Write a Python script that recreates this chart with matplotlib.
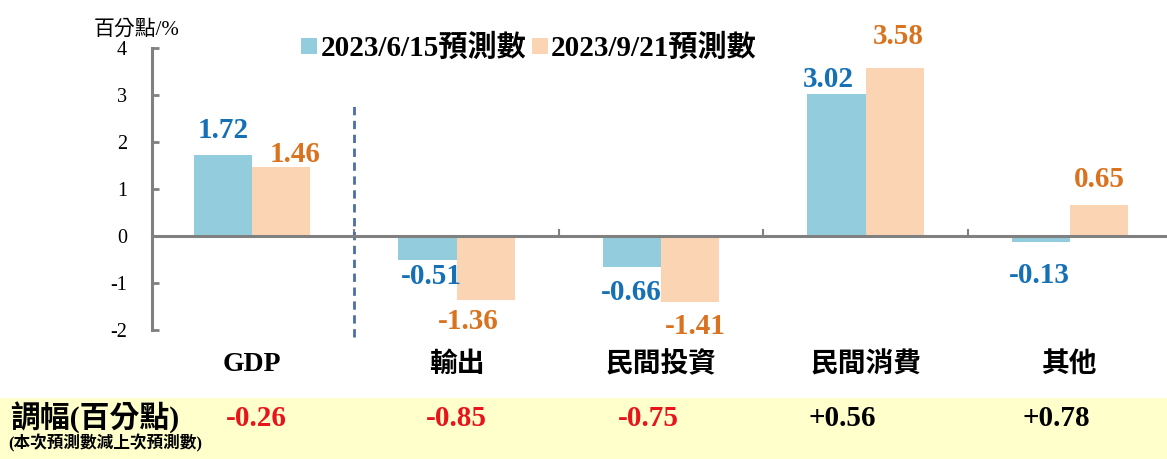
import matplotlib
matplotlib.use("Agg")
import matplotlib.pyplot as plt
import matplotlib.transforms as mtransforms
from matplotlib.patches import Patch, Rectangle
import numpy as np

# data
categories = ["GDP", "輸出", "民間投資", "民間消費", "其他"]
forecast_jun = [1.72, -0.51, -0.66, 3.02, -0.13]   # 2023/6/15預測數
forecast_sep = [1.46, -1.36, -1.41, 3.58, 0.65]    # 2023/9/21預測數
adjust = ["-0.26", "-0.85", "-0.75", "+0.56", "+0.78"]
series_names = ["2023/6/15預測數", "2023/9/21預測數"]

# label nudges in pixels (labels in the original are hand placed)
jun_dx = [0, 4, -1, -8, -2]
jun_dy = [17, 3, 12, 7, 20]
sep_dx = [14, -17, 5, 4, 0]
sep_dy = [5, 8, 11, 24, 18]
adj_dx = [4, 0, -13, -23, -14]

FONT = ["Liberation Serif", "Noto Sans CJK TC", "DejaVu Sans"]
plt.rcParams["font.family"] = FONT
plt.rcParams["axes.unicode_minus"] = False

blue_bar = "#93CDDD"
orange_bar = "#FBD4B4"
blue_txt = "#1570B5"
orange_txt = "#D9731F"
grey = "#808080"

fig = plt.figure(figsize=(11.67, 4.59), dpi=100)
ax = fig.add_axes([152 / 1167, 1 - 330 / 459, 1 - 152 / 1167, (330 - 47.9) / 459])

# yellow strip for the adjustment row
fig.patches.append(Rectangle((0, 0), 1, 61 / 459, transform=fig.transFigure,
                             facecolor="#FFFFCC", edgecolor="none", zorder=-5))

x = np.arange(len(categories))
w = 0.285
ax.bar(x - w / 2, forecast_jun, w, color=blue_bar, zorder=2)
ax.bar(x + w / 2, forecast_sep, w, color=orange_bar, zorder=2)

ax.set_xlim(-0.489, 4.474)
ax.set_ylim(-2, 4)

for s in ["top", "right"]:
    ax.spines[s].set_visible(False)
ax.spines["bottom"].set_position(("data", 0))
for s in ["left", "bottom"]:
    ax.spines[s].set_color(grey)
    ax.spines[s].set_linewidth(2.2)
    ax.spines[s].set_zorder(3)

ax.set_yticks(range(-2, 5))
ax.tick_params(axis="y", direction="in", length=5, width=2, color=grey,
               labelsize=14.5, pad=18)
ax.set_xticks(x[:-1] + 0.5)
ax.tick_params(axis="x", direction="in", length=5, width=1.5, color=grey,
               labelbottom=False)

# value labels
for i in range(len(categories)):
    v = forecast_jun[i]
    ax.annotate(f"{v:.2f}", (x[i] - w / 2, v), xytext=(jun_dx[i], jun_dy[i] if v > 0 else -jun_dy[i]),
                textcoords="offset pixels", ha="center", va="baseline" if v > 0 else "top",
                fontsize=21, fontweight="bold", color=blue_txt, zorder=4)
    v = forecast_sep[i]
    ax.annotate(f"{v:.2f}", (x[i] + w / 2, v), xytext=(sep_dx[i], sep_dy[i] if v > 0 else -sep_dy[i]),
                textcoords="offset pixels", ha="center", va="baseline" if v > 0 else "top",
                fontsize=21, fontweight="bold", color=orange_txt, zorder=4)

# dashed divider between GDP and components
ax.plot([0.5, 0.5], [-2.15, 2.8], color="#4A6FA5", lw=2, ls=(0, (3, 2)),
        clip_on=False, zorder=3)

# category names
for i, c in enumerate(categories):
    ax.text(x[i], -0.124, c, transform=ax.get_xaxis_transform(), ha="center",
            va="center", fontsize=20, fontweight="bold")

# adjustment row
trans = mtransforms.blended_transform_factory(ax.transData, fig.transFigure)
for i, a in enumerate(adjust):
    col = "#E8141C" if a.startswith("-") else "black"
    ax.text(x[i] + adj_dx[i] / 204.5, 1 - 418 / 459, a, transform=trans, ha="center",
            va="center", fontsize=21, fontweight="bold", color=col, zorder=5)
fig.text(10 / 1167, 1 - 418 / 459, "調幅(百分點)", ha="left", va="center",
         fontsize=21.5, fontweight="bold")
fig.text(8 / 1167, 1 - 443 / 459, "(本次預測數減上次預測數)", ha="left", va="center",
         fontsize=12, fontweight="bold")

# unit label
fig.text(94 / 1167, 1 - 30 / 459, "百分點/%", ha="left", va="center", fontsize=15)

handles = [Patch(facecolor=blue_bar), Patch(facecolor=orange_bar)]
fig.legend(handles, series_names, loc="center", bbox_to_anchor=(529 / 1167, 1 - 48 / 459),
           ncol=2, frameon=False, prop={"size": 21, "weight": "bold", "family": FONT},
           handlelength=0.55, handleheight=0.5, handletextpad=0.1, columnspacing=0.2,
           borderpad=0, borderaxespad=0)

fig.savefig("out.png", dpi=100)
